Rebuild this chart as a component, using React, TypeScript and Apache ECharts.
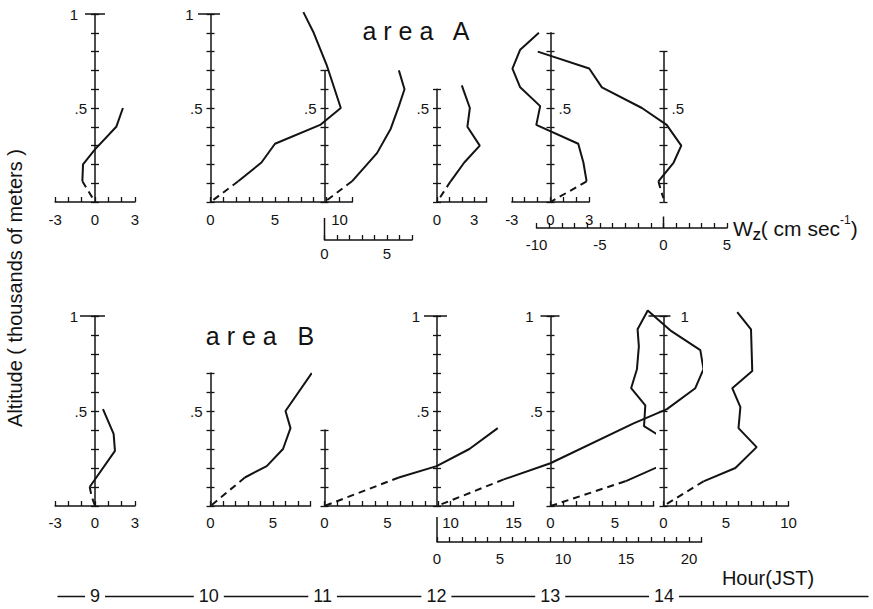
import React, { useEffect, useRef } from "react";
import * as echarts from "echarts";

// ---------- profile data: [Wz (cm/s), altitude (thousands of meters)] ----------
const A9_SOLID = [[2.1, 0.5], [1.6, 0.4], [0, 0.28], [-0.9, 0.2], [-0.95, 0.11]];
const A9_DASHED = [[-0.95, 0.11], [0, 0]];
const A10_SOLID = [[7.2, 1.01], [8.0, 0.9], [9.0, 0.73], [10.1, 0.5], [8.5, 0.41], [5.0, 0.31], [3.95, 0.21], [2.15, 0.11]];
const A10_DASHED = [[2.15, 0.11], [0, 0]];
const A11_SOLID = [[5.95, 0.7], [6.4, 0.6], [5.95, 0.51], [5.3, 0.39], [4.2, 0.26], [2.2, 0.11]];
const A11_DASHED = [[2.2, 0.11], [0, 0]];
const A12_SOLID = [[2.0, 0.62], [2.65, 0.5], [2.45, 0.4], [3.45, 0.3], [2.2, 0.21], [1.1, 0.11]];
const A12_DASHED = [[1.1, 0.11], [0, 0]];
const A13_SOLID = [[-0.9, 0.9], [-2.35, 0.81], [-2.95, 0.71], [-2.35, 0.61], [-0.8, 0.51], [-1.1, 0.41], [2.15, 0.31], [2.55, 0.21], [2.8, 0.11]];
const A13_DASHED = [[2.8, 0.11], [0, 0]];
const A14_SOLID = [[-9.9, 0.8], [-5.85, 0.71], [-4.85, 0.61], [-1.7, 0.5], [0.25, 0.41], [1.4, 0.3], [0.8, 0.21], [-0.4, 0.11]];
const A14_DASHED = [[-0.4, 0.11], [-0.2, 0.06], [0, 0.02]];

const B9_SOLID = [[0.6, 0.51], [1.4, 0.38], [1.5, 0.29], [-0.4, 0.1]];
const B9_DASHED = [[-0.4, 0.1], [-0.25, 0.05], [0, 0]];
const B10_SOLID = [[8.1, 0.7], [6.0, 0.5], [6.4, 0.41], [5.8, 0.3], [4.5, 0.21], [2.75, 0.15]];
const B10_DASHED = [[2.75, 0.15], [0, 0]];
const B11_SOLID = [[13.75, 0.41], [11.5, 0.3], [8.9, 0.21], [5.9, 0.15]];
const B11_DASHED = [[5.9, 0.15], [0, 0]];
const B12_SOLID = [[16.7, 1.03], [18.6, 0.92], [20.9, 0.82], [21.15, 0.72], [20.5, 0.62], [18.25, 0.51], [15.6, 0.435], [9.0, 0.225], [5.3, 0.14]];
const B12_DASHED = [[5.3, 0.14], [0, 0]];
const B13_SOLID = [[7.55, 1.03], [6.75, 0.93], [6.85, 0.84], [6.7, 0.72], [6.25, 0.62], [7.35, 0.53], [7.25, 0.42], [9.85, 0.31], [8.8, 0.22], [5.8, 0.13]];
const B13_DASHED = [[5.8, 0.13], [0, 0]];
const B14_SOLID = [[5.9, 1.02], [7.0, 0.93], [7.1, 0.71], [5.5, 0.62], [6.15, 0.52], [6.0, 0.41], [7.45, 0.31], [5.75, 0.2], [3.2, 0.13]];
const B14_DASHED = [[3.2, 0.13], [0, 0]];

// ---------- tick labels ----------
const LBL_PM3 = [-3, 0, 3];
const LBL_0_5 = [0, 5];
const LBL_0_5_10 = [0, 5, 10];
const LBL_0_3 = [0, 3];
const LBL_A14 = [-10, -5, 0, 5];
const LBL_B11 = [0, 5, 10, 15];
const LBL_B12 = [0, 5, 10, 15, 20];
const ALT_FULL = [0.5, 1];
const ALT_HALF = [0.5];
const ALT_TOP = [1];
const ALT_NONE: number[] = [];
const HOURS = [9, 10, 11, 12, 13, 14];

// ---------- layout (positions / sizes / styles) ----------
const INK = "#131313";
const FONT = '"Liberation Sans", "DejaVu Sans", Arial, sans-serif';
const ROWS: any = { A: { y0: 202, uy: 188, lm: 10 }, B: { y0: 506, uy: 190, lm: 9 } };
const COLS = [95, 210.5, 324.5, 437, 550.5, 663.5];
const HOUR_AXIS = { left: 58, right: 868, y: 596, x9: 95, x14: 664 };

const PANELS: any[] = [
  { row: "A", col: 0, ux: 13.3, xMin: -3, xMax: 3, yMax: 1, xl: LBL_PM3, yl: ALT_FULL, side: "left", solid: A9_SOLID, dashed: A9_DASHED, cap: [10, 10] },
  { row: "A", col: 1, ux: 12.9, xMin: 0, xMax: 11, yMax: 1, xl: LBL_0_5_10, yl: ALT_FULL, side: "left", solid: A10_SOLID, dashed: A10_DASHED, cap: [12.5, 9.5] },
  { row: "A", col: 2, ux: 12.5, xMin: 0, xMax: 7, yMax: 0.7, xl: LBL_0_5, yl: ALT_HALF, side: "left", solid: A11_SOLID, dashed: A11_DASHED, offset: 38, link: 16, lm: 6 },
  { row: "A", col: 3, ux: 12.4, xMin: 0, xMax: 4, yMax: 0.6, xl: LBL_0_3, yl: ALT_HALF, side: "left", solid: A12_SOLID, dashed: A12_DASHED },
  { row: "A", col: 4, ux: 12.9, xMin: -3, xMax: 3, yMax: 0.9, xl: LBL_PM3, yl: ALT_HALF, side: "right", solid: A13_SOLID, dashed: A13_DASHED },
  { row: "A", col: 5, ux: 12.7, xMin: -10, xMax: 5, yMax: 0.8, xl: LBL_A14, yl: ALT_HALF, side: "right", solid: A14_SOLID, dashed: A14_DASHED, offset: 26, link: 14.5, lm: 9 },
  { row: "B", col: 0, ux: 13.3, xMin: -3, xMax: 3, yMax: 1, xl: LBL_PM3, yl: ALT_FULL, side: "left", solid: B9_SOLID, dashed: B9_DASHED, cap: [15, 10] },
  { row: "B", col: 1, ux: 12.5, xMin: 0, xMax: 8, yMax: 0.7, xl: LBL_0_5, yl: ALT_HALF, side: "left", solid: B10_SOLID, dashed: B10_DASHED },
  { row: "B", col: 2, ux: 12.6, xMin: 0, xMax: 15, yMax: 0.4, xl: LBL_B11, yl: ALT_NONE, side: "left", solid: B11_SOLID, dashed: B11_DASHED },
  { row: "B", col: 3, ux: 12.6, xMin: 0, xMax: 21, yMax: 1, xl: LBL_B12, yl: ALT_FULL, side: "left", solid: B12_SOLID, dashed: B12_DASHED, offset: 36, link: 11, lm: 9, cap: [13, 10] },
  { row: "B", col: 4, ux: 12.9, xMin: 0, xMax: 8, yMax: 1, xl: LBL_0_5, yl: ALT_FULL, side: "left", solid: B13_SOLID, dashed: B13_DASHED, cap: [10, 9] },
  { row: "B", col: 5, ux: 12.5, xMin: 0, xMax: 10, yMax: 1, xl: LBL_0_5_10, yl: ALT_TOP, side: "right", solid: B14_SOLID, dashed: B14_DASHED, cap: [15, 7] },
];

const near = (a: number, b: number) => Math.abs(a - b) < 1e-6;

function buildOption() {
  const grid: any[] = [];
  const xAxis: any[] = [];
  const yAxis: any[] = [];
  const series: any[] = [];
  const axisLine = { color: INK, width: 1.5 };
  const tickStyle = { color: INK, width: 1.3 };
  const capStyle = { color: INK, width: 1.5 };

  PANELS.forEach((p) => {
    const row = ROWS[p.row];
    const ox = COLS[p.col];
    const height = p.yMax * row.uy;
    const top = row.y0 - height;

    // data grid: horizontal Wz axis + hidden altitude axis
    grid.push({ left: ox + p.xMin * p.ux, top, width: (p.xMax - p.xMin) * p.ux, height, containLabel: false, outerBoundsMode: "none" });
    const gi = grid.length - 1;
    const xi = xAxis.length;
    xAxis.push({
      type: "value",
      gridIndex: gi,
      min: p.xMin,
      max: p.xMax,
      interval: 1,
      position: "bottom",
      offset: p.offset || 0,
      axisLine: { show: true, onZero: false, lineStyle: axisLine },
      axisTick: { show: true, inside: true, length: 5, lineStyle: tickStyle },
      splitLine: { show: false },
      axisLabel: {
        show: true,
        margin: p.lm != null ? p.lm : row.lm,
        color: INK,
        fontFamily: FONT,
        fontSize: 15,
        showMinLabel: true,
        showMaxLabel: true,
        formatter: (v: number) => (p.xl.some((l: number) => near(l, v)) ? String(Math.round(v)) : ""),
      },
    });
    const yi = yAxis.length;
    yAxis.push({ type: "value", gridIndex: gi, min: 0, max: p.yMax, show: false });

    // altitude axis grid, whose left edge is the Wz = 0 line
    grid.push({ left: ox, top, width: 2, height, containLabel: false, outerBoundsMode: "none" });
    const ag = grid.length - 1;
    xAxis.push({ type: "value", gridIndex: ag, min: 0, max: 1, show: false });
    const onePad = p.side === "left" ? [0, 9, 0, 0] : [0, 0, 0, 9];
    yAxis.push({
      type: "value",
      gridIndex: ag,
      min: 0,
      max: p.yMax,
      interval: 0.1,
      position: "left",
      axisLine: { show: true, onZero: false, lineStyle: axisLine },
      axisTick: { show: true, inside: true, length: 4, lineStyle: tickStyle },
      splitLine: { show: false },
      axisLabel: {
        show: p.yl.length > 0,
        inside: p.side === "right",
        margin: 8,
        color: INK,
        fontFamily: FONT,
        fontSize: 15,
        formatter: (v: number) => {
          if (near(v, 1) && p.yl.some((l: number) => near(l, 1))) return "{one|1}";
          if (near(v, 0.5) && p.yl.some((l: number) => near(l, 0.5))) return ".5";
          return "";
        },
        rich: { one: { padding: onePad, fontFamily: FONT, fontSize: 15, color: INK } },
      },
    });
    yAxis.push({
      type: "value",
      gridIndex: ag,
      min: 0,
      max: p.yMax,
      interval: 0.1,
      position: "left",
      axisLine: { show: false, onZero: false },
      axisTick: { show: true, inside: false, length: 4, lineStyle: tickStyle },
      splitLine: { show: false },
      axisLabel: { show: false },
    });
    if (p.cap) {
      // wide cap at the top of the altitude axis (outer and inner halves)
      [false, true].forEach((inside, k) => {
        yAxis.push({
          type: "value",
          gridIndex: ag,
          min: 0,
          max: p.yMax,
          position: "left",
          axisLine: { show: false, onZero: false },
          axisTick: { show: true, inside, length: p.cap[k], customValues: [p.yMax], lineStyle: capStyle },
          splitLine: { show: false },
          axisLabel: { show: false },
        });
      });
    }

    const base = { type: "line", xAxisIndex: xi, yAxisIndex: yi, symbol: "none", clip: false, silent: true, z: 4 };
    series.push({ ...base, data: p.solid, lineStyle: { color: INK, width: 2 } });
    series.push({ ...base, data: p.dashed, lineStyle: { color: INK, width: 2, type: [7, 5] } });

    if (p.link) {
      series.push({
        type: "custom",
        xAxisIndex: xi,
        yAxisIndex: yi,
        clip: false,
        silent: true,
        z: 5,
        data: [[0, 0]],
        renderItem: (_params: any, api: any) => {
          const b = api.coord([0, 0]);
          return {
            type: "rect",
            shape: { x: b[0] - 0.75, y: b[1] + p.link, width: 1.5, height: p.offset - p.link },
            style: { fill: INK },
          };
        },
      });
    }
  });

  // hour axis
  const hx = (HOUR_AXIS.x14 - HOUR_AXIS.x9) / (HOURS[HOURS.length - 1] - HOURS[0]);
  const hMin = HOURS[0] - (HOUR_AXIS.x9 - HOUR_AXIS.left) / hx;
  const hMax = hMin + (HOUR_AXIS.right - HOUR_AXIS.left) / hx;
  grid.push({ left: HOUR_AXIS.left, width: HOUR_AXIS.right - HOUR_AXIS.left, top: HOUR_AXIS.y - 10, height: 10, containLabel: false, outerBoundsMode: "none" });
  const hg = grid.length - 1;
  const hxi = xAxis.length;
  xAxis.push({
    type: "value",
    gridIndex: hg,
    min: hMin,
    max: hMax,
    position: "bottom",
    axisLine: { show: true, onZero: false, lineStyle: { color: INK, width: 1.4 } },
    axisTick: { show: false },
    splitLine: { show: false },
    axisLabel: {
      show: true,
      customValues: HOURS,
      margin: 0,
      verticalAlign: "middle",
      color: INK,
      fontFamily: FONT,
      fontSize: 18,
      backgroundColor: "#fff",
      padding: [1, 5, 1, 5],
      formatter: (v: number) => String(Math.round(v)),
    },
  });
  const hyi = yAxis.length;
  yAxis.push({ type: "value", gridIndex: hg, show: false, min: 0, max: 1 });
  series.push({ type: "line", xAxisIndex: hxi, yAxisIndex: hyi, data: [], silent: true });

  const graphic = [
    {
      type: "text",
      x: 15,
      y: 288,
      rotation: Math.PI / 2,
      style: { text: "Altitude ( thousands of meters )", fill: INK, fontFamily: FONT, fontSize: 20, align: "center", verticalAlign: "middle" },
    },
    { type: "text", x: 416, y: 31, style: { text: "a r e a   A", fill: INK, fontFamily: FONT, fontSize: 25, align: "center", verticalAlign: "middle" } },
    { type: "text", x: 260, y: 336, style: { text: "a r e a   B", fill: INK, fontFamily: FONT, fontSize: 25, align: "center", verticalAlign: "middle" } },
    { type: "text", x: 768, y: 578, style: { text: "Hour(JST)", fill: INK, fontFamily: FONT, fontSize: 20, align: "center", verticalAlign: "middle" } },
    {
      type: "text",
      x: 733,
      y: 228,
      style: {
        text: "W{s|Z}( cm sec{p|-1})",
        fill: INK,
        fontFamily: FONT,
        fontSize: 21,
        lineHeight: 28,
        align: "left",
        verticalAlign: "middle",
        rich: {
          s: { fontSize: 13, fontWeight: "bold", fontFamily: FONT, fill: INK, verticalAlign: "bottom", lineHeight: 28 },
          p: { fontSize: 12, fontFamily: FONT, fill: INK, verticalAlign: "top", lineHeight: 28 },
        },
      },
    },
  ];

  return { animation: false, backgroundColor: "#fff", grid, xAxis, yAxis, series, graphic };
}

export default function App() {
  const ref = useRef<HTMLDivElement>(null);
  useEffect(() => {
    if (!ref.current) return;
    const chart = echarts.init(ref.current, undefined, { renderer: "svg" });
    chart.setOption(buildOption() as any);
    return () => chart.dispose();
  }, []);
  return <div ref={ref} style={{ position: "fixed", left: 0, top: 0, width: 873, height: 609, background: "#fff" }} />;
}
